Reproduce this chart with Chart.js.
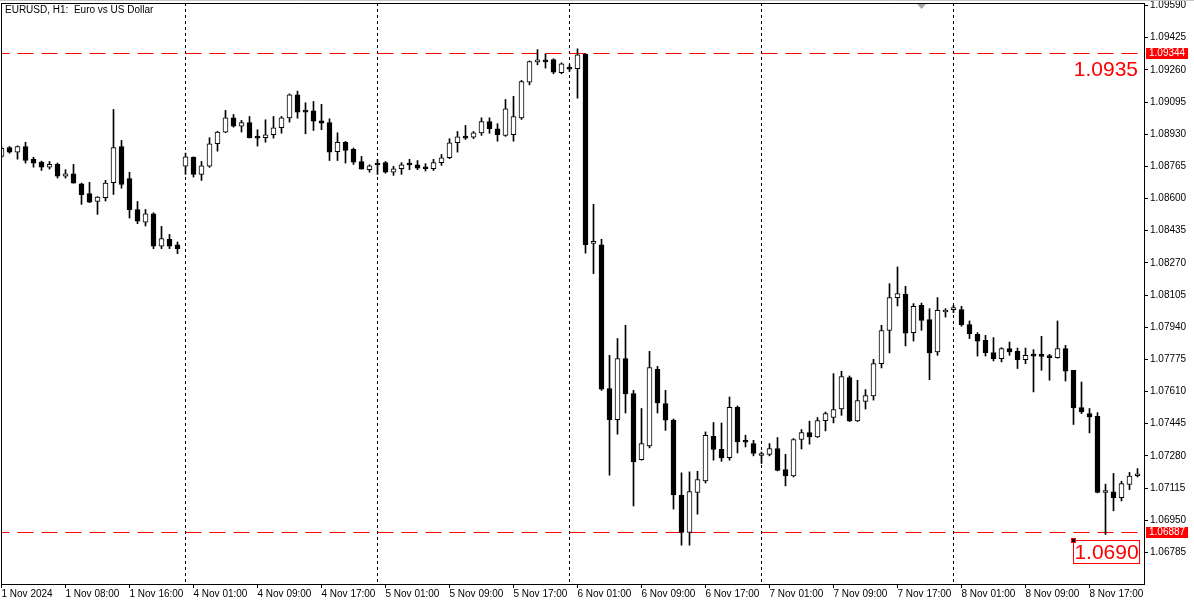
<!DOCTYPE html>
<html>
<head>
<meta charset="utf-8">
<title>EURUSD, H1</title>
<script src="https://cdn.jsdelivr.net/npm/chart.js@4.4.1/dist/chart.umd.min.js"></script>
<style>
  html, body { margin: 0; padding: 0; background: #fff; }
  #wrap { position: relative; width: 1194px; height: 603px; }
</style>
</head>
<body>
<div id="wrap"><canvas id="chart"></canvas></div>
<script>
const title = 'EURUSD, H1:  Euro vs US Dollar';
const days = ['1 Nov', '4 Nov', '5 Nov', '6 Nov', '7 Nov', '8 Nov'];
const barsPerDay = [23, 24, 24, 24, 24, 24];

const opens = [
  1.08816, 1.08861, 1.08838, 1.08867, 1.08801, 1.08787, 1.08761, 1.08775, 1.08715, 1.08727,
  1.08676, 1.08625, 1.08585, 1.08604, 1.08681, 1.08867, 1.08702, 1.08544, 1.08479, 1.08522,
  1.08356, 1.08391, 1.08363, 1.08766, 1.08812, 1.08724, 1.08766, 1.08881, 1.08941, 1.09014,
  1.08971, 1.08989, 1.08917, 1.08912, 1.08927, 1.08963, 1.09014, 1.09132, 1.09050, 1.09050,
  1.08999, 1.08989, 1.08840, 1.08888, 1.08852, 1.08790, 1.08748, 1.08779, 1.08784, 1.08735,
  1.08753, 1.08773, 1.08773, 1.08761, 1.08753, 1.08784, 1.08809, 1.08886, 1.08917, 1.08915,
  1.08937, 1.08995, 1.08958, 1.08924, 1.08927, 1.09014, 1.09197, 1.09301, 1.09308, 1.09313,
  1.09245, 1.09271, 1.09266, 1.09340, 1.08370, 1.08363, 1.07625, 1.07466, 1.07779, 1.07600,
  1.07261, 1.07331, 1.07724, 1.07548, 1.07463, 1.07077, 1.06887, 1.07092, 1.07152, 1.07380,
  1.07313, 1.07271, 1.07529, 1.07351, 1.07343, 1.07282, 1.07287, 1.07318, 1.07210, 1.07177,
  1.07364, 1.07400, 1.07377, 1.07461, 1.07477, 1.07521, 1.07682, 1.07459, 1.07559, 1.07587,
  1.07753, 1.07923, 1.08092, 1.08109, 1.07912, 1.08052, 1.07979, 1.07813, 1.08018, 1.08030,
  1.08030, 1.07953, 1.07904, 1.07873, 1.07810, 1.07779, 1.07830, 1.07816, 1.07774, 1.07796,
  1.07792, 1.07795, 1.07784, 1.07830, 1.07719, 1.07528, 1.07497, 1.07483, 1.07092, 1.07095,
  1.07065, 1.07133, 1.07178
];
const highs = [
  1.08867, 1.08867, 1.08870, 1.08889, 1.08812, 1.08792, 1.08790, 1.08782, 1.08748, 1.08775,
  1.08679, 1.08683, 1.08610, 1.08693, 1.09057, 1.08898, 1.08735, 1.08585, 1.08544, 1.08527,
  1.08457, 1.08416, 1.08377, 1.08833, 1.08814, 1.08790, 1.08912, 1.08945, 1.09052, 1.09031,
  1.09001, 1.09021, 1.08953, 1.09004, 1.09021, 1.09021, 1.09137, 1.09151, 1.09091, 1.09098,
  1.09083, 1.09009, 1.08937, 1.08893, 1.08859, 1.08816, 1.08773, 1.08801, 1.08790, 1.08765,
  1.08784, 1.08801, 1.08795, 1.08779, 1.08801, 1.08826, 1.08907, 1.08944, 1.08975, 1.08944,
  1.09014, 1.09014, 1.08984, 1.09108, 1.09124, 1.09206, 1.09306, 1.09364, 1.09342, 1.09317,
  1.09296, 1.09286, 1.09368, 1.09344, 1.08570, 1.08391, 1.07796, 1.07882, 1.07950, 1.07616,
  1.07523, 1.07816, 1.07739, 1.07616, 1.07469, 1.07193, 1.07198, 1.07201, 1.07403, 1.07451,
  1.07449, 1.07582, 1.07536, 1.07386, 1.07360, 1.07300, 1.07343, 1.07374, 1.07288, 1.07369,
  1.07415, 1.07458, 1.07477, 1.07505, 1.07702, 1.07714, 1.07690, 1.07668, 1.07620, 1.07775,
  1.07950, 1.08163, 1.08249, 1.08150, 1.08061, 1.08064, 1.08035, 1.08092, 1.08035, 1.08052,
  1.08047, 1.07972, 1.07912, 1.07898, 1.07887, 1.07835, 1.07864, 1.07833, 1.07833, 1.07825,
  1.07893, 1.07801, 1.07972, 1.07847, 1.07719, 1.07659, 1.07523, 1.07502, 1.07135, 1.07190,
  1.07150, 1.07195, 1.07215
];
const lows = [
  1.08811, 1.08833, 1.08802, 1.08782, 1.08761, 1.08744, 1.08751, 1.08705, 1.08705, 1.08679,
  1.08570, 1.08579, 1.08519, 1.08587, 1.08621, 1.08653, 1.08500, 1.08471, 1.08459, 1.08343,
  1.08343, 1.08343, 1.08317, 1.08724, 1.08710, 1.08693, 1.08760, 1.08843, 1.08938, 1.08966,
  1.08941, 1.08910, 1.08869, 1.08889, 1.08910, 1.08935, 1.08992, 1.09012, 1.08932, 1.08949,
  1.08953, 1.08795, 1.08795, 1.08782, 1.08775, 1.08751, 1.08735, 1.08724, 1.08730, 1.08719,
  1.08724, 1.08748, 1.08748, 1.08741, 1.08744, 1.08770, 1.08805, 1.08838, 1.08903, 1.08907,
  1.08924, 1.08935, 1.08894, 1.08919, 1.08894, 1.09006, 1.09183, 1.09286, 1.09269, 1.09240,
  1.09240, 1.09252, 1.09115, 1.08320, 1.08215, 1.07616, 1.07181, 1.07391, 1.07500, 1.07023,
  1.07258, 1.07321, 1.07500, 1.07411, 1.07007, 1.06822, 1.06822, 1.06981, 1.07141, 1.07258,
  1.07252, 1.07258, 1.07295, 1.07326, 1.07280, 1.07241, 1.07280, 1.07203, 1.07126, 1.07172,
  1.07315, 1.07340, 1.07374, 1.07408, 1.07449, 1.07488, 1.07456, 1.07456, 1.07520, 1.07566,
  1.07731, 1.07808, 1.08049, 1.07844, 1.07869, 1.07924, 1.07671, 1.07796, 1.07992, 1.08015,
  1.07945, 1.07882, 1.07792, 1.07792, 1.07767, 1.07762, 1.07796, 1.07728, 1.07753, 1.07608,
  1.07719, 1.07668, 1.07781, 1.07664, 1.07441, 1.07497, 1.07398, 1.07090, 1.06877, 1.06998,
  1.07049, 1.07107, 1.07172
];
const closes = [
  1.08857, 1.08838, 1.08867, 1.08795, 1.08782, 1.08761, 1.08775, 1.08715, 1.08727, 1.08679,
  1.08620, 1.08582, 1.08607, 1.08679, 1.08861, 1.08672, 1.08543, 1.08484, 1.08522, 1.08356,
  1.08394, 1.08356, 1.08343, 1.08814, 1.08724, 1.08768, 1.08881, 1.08941, 1.09014, 1.08971,
  1.08989, 1.08912, 1.08910, 1.08927, 1.08963, 1.09014, 1.09132, 1.09043, 1.09043, 1.08997,
  1.08987, 1.08838, 1.08888, 1.08847, 1.08787, 1.08751, 1.08768, 1.08772, 1.08735, 1.08753,
  1.08773, 1.08772, 1.08756, 1.08753, 1.08784, 1.08809, 1.08886, 1.08917, 1.08910, 1.08937,
  1.08995, 1.08958, 1.08927, 1.09060, 1.09020, 1.09200, 1.09303, 1.09303, 1.09301, 1.09248,
  1.09291, 1.09263, 1.09337, 1.08363, 1.08372, 1.07622, 1.07466, 1.07779, 1.07598, 1.07249,
  1.07343, 1.07733, 1.07551, 1.07463, 1.07080, 1.06887, 1.07097, 1.07159, 1.07386, 1.07313,
  1.07269, 1.07529, 1.07351, 1.07350, 1.07292, 1.07292, 1.07318, 1.07206, 1.07177, 1.07364,
  1.07400, 1.07377, 1.07461, 1.07497, 1.07518, 1.07687, 1.07459, 1.07564, 1.07589, 1.07753,
  1.07923, 1.08092, 1.08112, 1.07910, 1.08047, 1.07975, 1.07808, 1.08027, 1.08020, 1.08032,
  1.07953, 1.07907, 1.07869, 1.07810, 1.07779, 1.07830, 1.07813, 1.07774, 1.07796, 1.07792,
  1.07790, 1.07784, 1.07830, 1.07715, 1.07526, 1.07505, 1.07480, 1.07092, 1.07095, 1.07065,
  1.07138, 1.07176, 1.07181
];

const priceTicks = [
  1.09590, 1.09425, 1.09260, 1.09095, 1.08930, 1.08765, 1.08600, 1.08435, 1.08270,
  1.08105, 1.07940, 1.07775, 1.07610, 1.07445, 1.07280, 1.07115, 1.06950, 1.06785
];
const priceLines = [1.09344, 1.06887];
const priceTexts = ['1.0935', '1.0690'];

// build the hourly category list
const candleTimes = [];
days.forEach((d, k) => {
  for (let h = 0; h < barsPerDay[k]; h++) {
    candleTimes.push(d + ' ' + String(h).padStart(2, '0') + ':00');
  }
});
const dayStarts = candleTimes.map((t, i) => (i > 0 && t.endsWith(' 00:00')) ? i : -1).filter(i => i >= 0);
const labelTicks = candleTimes.map((t, i) => i).filter(i => i % 8 === 0);

const wicks = candleTimes.map((t, i) => ({ x: i, y: [lows[i], highs[i]] }));
const bodies = candleTimes.map((t, i) => ({ x: i, y: [opens[i], closes[i]] }));
const bodyFill = candleTimes.map((t, i) => closes[i] >= opens[i] ? '#ffffff' : '#000000');

const X_MIN = -0.0625, X_MAX = 142.8125;
const Y_MIN = 1.066228, Y_MAX = 1.096030;
const RED = '#ff0000';
const FONT = 'Liberation Sans, Arial, sans-serif';

Chart.defaults.font.family = FONT;
Chart.defaults.font.size = 10;
Chart.defaults.color = '#000';

const overlay = {
  id: 'overlay',
  afterDraw(chart) {
    const ctx = chart.ctx;
    const a = chart.chartArea;
    const y = chart.scales.y;
    ctx.save();

    // frame
    ctx.strokeStyle = '#c8c8c8';
    ctx.lineWidth = 1;
    ctx.beginPath(); ctx.moveTo(0, 0.5); ctx.lineTo(chart.width, 0.5); ctx.stroke();
    ctx.strokeStyle = '#000';
    ctx.strokeRect(a.left + 0.5, a.top + 0.5, a.right - a.left, a.bottom - a.top);

    // title
    ctx.fillStyle = '#000';
    ctx.font = '10px ' + FONT;
    ctx.textBaseline = 'alphabetic';
    ctx.textAlign = 'left';
    ctx.fillText(title, 5, 13);

    // shift marker
    ctx.fillStyle = '#a8a8a8';
    ctx.beginPath(); ctx.moveTo(917, 4); ctx.lineTo(926, 4); ctx.lineTo(921.5, 9); ctx.closePath(); ctx.fill();

    // price tags on the axis
    priceLines.forEach(v => {
      const py = Math.floor(y.getPixelForValue(v));
      ctx.fillStyle = RED;
      ctx.fillRect(a.right + 2, py - 5, 42, 11);
      ctx.fillStyle = '#fff';
      ctx.font = '10px ' + FONT;
      ctx.textBaseline = 'middle';
      ctx.fillText(v.toFixed(5), a.right + 5, py + 0.5);
    });

    // text objects
    ctx.font = '21px ' + FONT;
    ctx.textBaseline = 'alphabetic';
    ctx.fillStyle = RED;
    const y1 = y.getPixelForValue(priceLines[0]);
    ctx.textAlign = 'right';
    ctx.fillText(priceTexts[0], 1138, y1 + 23);

    const y2 = Math.floor(y.getPixelForValue(priceLines[1]));
    ctx.strokeStyle = RED;
    ctx.strokeRect(1073.5, y2 + 8.5, 66, 23);
    ctx.textAlign = 'center';
    ctx.fillText(priceTexts[1], 1106.5, y2 + 27);
    ctx.fillStyle = RED;
    ctx.fillRect(1071, y2 + 6, 5, 5);
    ctx.fillStyle = '#000';
    ctx.fillRect(1072, y2 + 7, 3, 3);
    ctx.restore();
  }
};

new Chart(document.getElementById('chart'), {
  type: 'bar',
  data: {
    datasets: [
      {
        type: 'line',
        data: [{ x: -1, y: priceLines[0] }, { x: 144, y: priceLines[0] }],
        borderColor: RED, borderWidth: 1, borderDash: [16, 8],
        pointRadius: 0, order: 3
      },
      {
        type: 'line',
        data: [{ x: -1, y: priceLines[1] }, { x: 144, y: priceLines[1] }],
        borderColor: RED, borderWidth: 1, borderDash: [16, 8],
        pointRadius: 0, order: 3
      },
      {
        data: wicks,
        backgroundColor: '#000',
        borderWidth: 0,
        barThickness: 1,
        grouped: false,
        order: 2
      },
      {
        data: bodies,
        backgroundColor: bodyFill,
        borderColor: '#000',
        borderWidth: 1,
        borderSkipped: false,
        barThickness: 5,
        minBarLength: 2,
        grouped: false,
        order: 1
      }
    ]
  },
  options: {
    responsive: true,
    maintainAspectRatio: false,
    devicePixelRatio: 1,
    animation: false,
    events: [],
    layout: { padding: { left: 1, top: 3, right: 0, bottom: 0 } },
    plugins: { legend: { display: false }, tooltip: { enabled: false } },
    scales: {
      x: {
        type: 'linear', position: 'bottom', min: X_MIN, max: X_MAX, offset: false,
        afterBuildTicks: s => { s.ticks = labelTicks.map(v => ({ value: v })); },
        afterFit: s => { s.height = 19; s.paddingLeft = 0; s.paddingRight = 0; },
        ticks: {
          autoSkip: false, maxRotation: 0, minRotation: 0, align: 'start', padding: 0,
          callback: v => v === 0 ? '1 Nov 2024' : candleTimes[v]
        },
        grid: { drawOnChartArea: false, drawTicks: true, tickLength: 4, color: '#000', offset: false },
        border: { display: false }
      },
      x2: {
        type: 'linear', position: 'top', min: X_MIN, max: X_MAX, offset: false,
        afterBuildTicks: s => { s.ticks = dayStarts.map(v => ({ value: v })); },
        afterFit: s => { s.height = 0; s.paddingLeft = 0; s.paddingRight = 0; },
        ticks: { display: false },
        grid: { drawOnChartArea: true, drawTicks: false, color: '#000', offset: false },
        border: { display: false, dash: [3, 3] }
      },
      y: {
        type: 'linear', position: 'right', min: Y_MIN, max: Y_MAX, beginAtZero: false,
        afterBuildTicks: s => { s.ticks = priceTicks.map(v => ({ value: v })); },
        afterFit: s => { s.width = 50; s.paddingTop = 0; s.paddingBottom = 0; },
        ticks: { padding: 2, callback: v => v.toFixed(5) },
        grid: { drawOnChartArea: false, drawTicks: true, tickLength: 4, color: '#000' },
        border: { display: false }
      }
    }
  },
  plugins: [overlay]
});
</script>
</body>
</html>
